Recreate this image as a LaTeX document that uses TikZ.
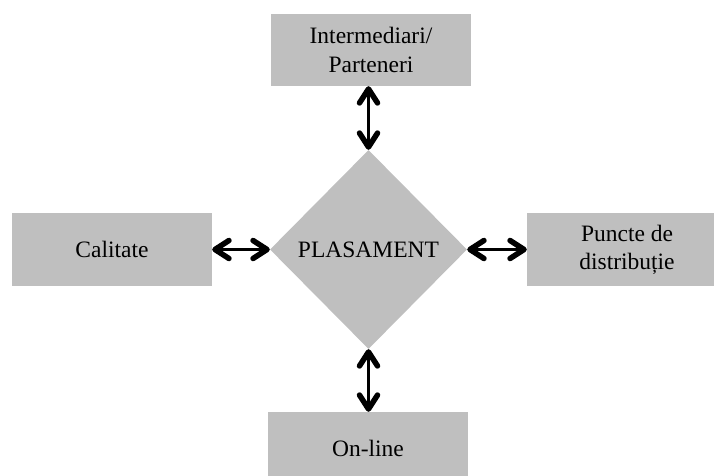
\documentclass[tikz,border=0pt]{standalone}
\usepackage{fontspec}
\setmainfont{Liberation Serif}
\usetikzlibrary{shapes.geometric,arrows.meta}
\definecolor{boxgray}{RGB}{191,191,191}
\tikzset{
  labelbox/.style={fill=boxgray, draw=none, minimum width=200pt, minimum height=73pt,
    inner sep=0pt, align=center, font=\fontsize{23.5pt}{28.2pt}\selectfont},
  centre/.style={diamond, fill=boxgray, draw=none, minimum width=197pt, minimum height=199pt,
    inner sep=0pt, font=\fontsize{23.5pt}{28.2pt}\selectfont},
  barb/.tip={Straight Barb[length=14pt, width=18pt, line width=5.5pt, round]},
  both ways/.style={line width=2.5pt, {barb}-{barb}}
}
\begin{document}
\begin{tikzpicture}[x=1pt, y=-1pt]
  \useasboundingbox (0,0) rectangle (714,476);
  \clip (0,0) rectangle (714,476);
  % central diamond
  \node[centre] (plas) at (368.5,249.5) {PLASAMENT};
  % surrounding boxes
  \node[labelbox, minimum height=72pt] (inter) at (371,50) {Intermediari/\\Parteneri};
  \node[labelbox] (cal) at (112,249.5) {Calitate};
  \node[labelbox] (puncte) at (627,249.5) {Puncte de\\distribuție};
  \node[labelbox] (online) at (368,448.5) {On-line};
  % two-way connectors
  \draw[both ways] (plas.north |- inter.south) -- (plas.north);
  \draw[both ways] (cal.east) -- (plas.west);
  \draw[both ways] (plas.east) -- (puncte.west);
  \draw[both ways] (plas.south) -- (plas.south |- online.north);
\end{tikzpicture}
\end{document}
